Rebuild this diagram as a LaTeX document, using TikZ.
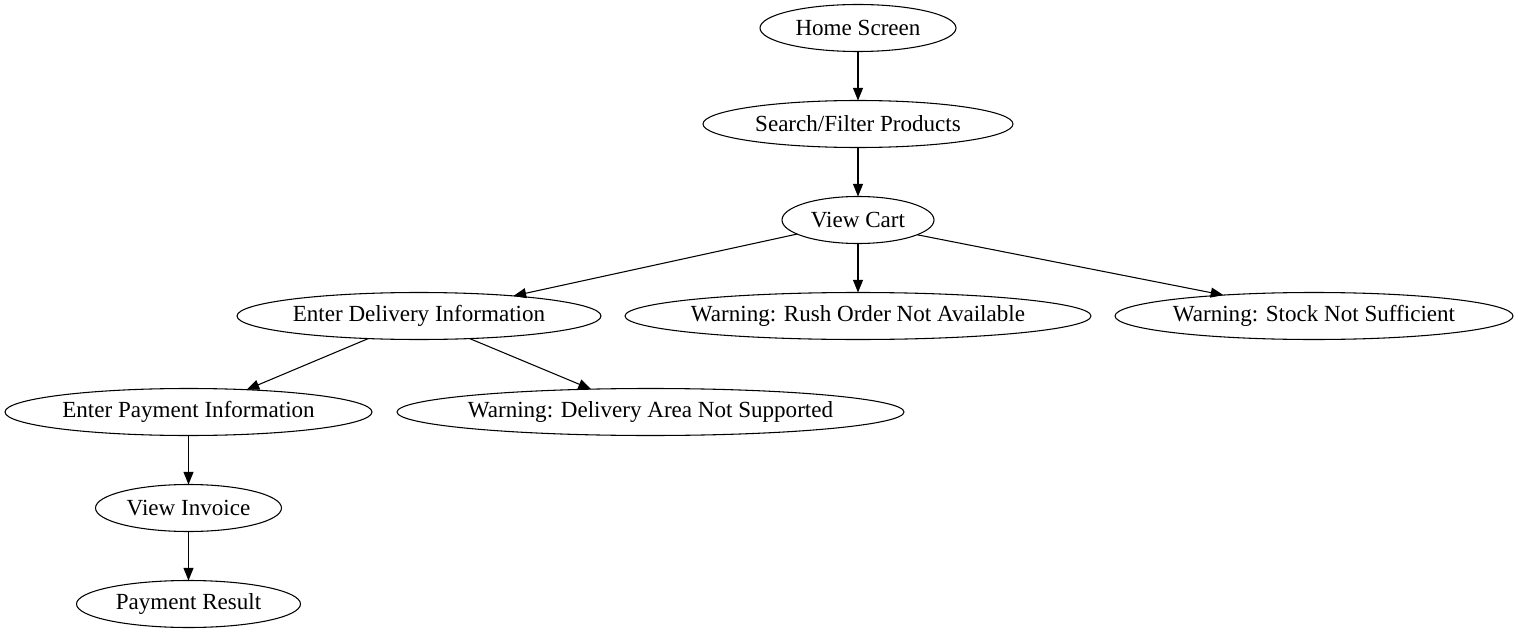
\documentclass[tikz,border=0pt]{standalone}
\usepackage{fontspec}
\setmainfont{Liberation Serif}
\usetikzlibrary{arrows.meta,shapes.geometric}
\newcommand{\lbl}[1]{\makebox[0pt]{\raisebox{-1.3pt}{#1}}}
\begin{document}
\begin{tikzpicture}[x=0.75pt,y=-0.75pt,
  st/.style={draw, ellipse, inner sep=0pt, outer sep=0pt, line width=0.8pt,
    minimum height=35.25pt, font=\fontsize{17.3}{20}\selectfont},
  ar/.style={line width=0.8pt, -{Triangle[length=9.5pt,width=7.5pt]}}]
\useasboundingbox (0,0) rectangle (1518,635);
\node[st, minimum width=147pt]    (hs) at (858,28)    {\lbl{Home Screen}};
\node[st, minimum width=232.5pt]  (sf) at (858,124)   {\lbl{Search/Filter Products}};
\node[st, minimum width=114pt]    (vc) at (858,220)   {\lbl{View Cart}};
\node[st, minimum width=273pt]    (ed) at (419,316)   {\lbl{Enter Delivery Information}};
\node[st, minimum width=349.5pt]  (wr) at (858,316)   {\lbl{Warning: Rush Order Not Available}};
\node[st, minimum width=298.5pt]  (ws) at (1314,316)  {\lbl{Warning: Stock Not Sufficient}};
\node[st, minimum width=275.25pt] (ep) at (188.5,412) {\lbl{Enter Payment Information}};
\node[st, minimum width=380.25pt] (wd) at (650.5,412) {\lbl{Warning: Delivery Area Not Supported}};
\node[st, minimum width=139.5pt]  (vi) at (188.5,508) {\lbl{View Invoice}};
\node[st, minimum width=168pt]    (pr) at (188.5,604) {\lbl{Payment Result}};
\draw[ar] (hs.south) -- (sf.north);
\draw[ar] (sf.south) -- (vc.north);
\draw[ar] (vc.193.8) -- (ed.12.3);
\draw[ar] (vc.south) -- (wr.north);
\draw[ar] (vc.346.6) -- (ws.167.8);
\draw[ar] (ed.204) -- (ep.21.3);
\draw[ar] (ed.336) -- (wd.159);
\draw[ar] (ep.south) -- (vi.north);
\draw[ar] (vi.south) -- (pr.north);
\end{tikzpicture}
\end{document}
